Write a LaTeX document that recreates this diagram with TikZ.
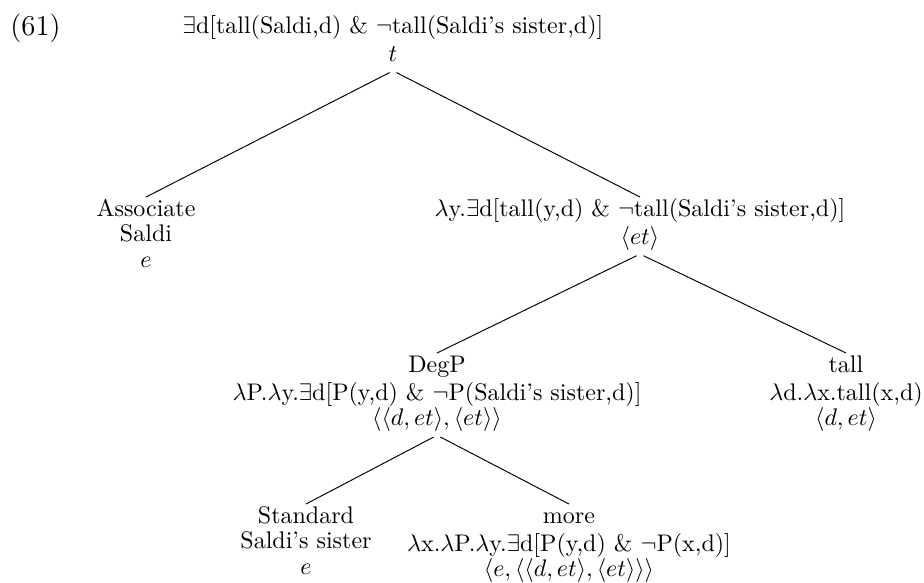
\documentclass[tikz,border=0pt]{standalone}
\usepackage{tikz}

\begin{document}
\begin{tikzpicture}[x=0.41667pt,y=-0.41667pt,
    lbl/.style={anchor=north,align=center,inner xsep=0pt,inner ysep=0.5pt,font=\fontsize{10}{10.6}\selectfont},
    branch/.style={shorten <=1.6pt}]
\useasboundingbox (0,0) rectangle (924,582);

\node[anchor=base west,inner sep=0pt,font=\large] (ex) at (10,35) {(61)};

\node[lbl] (root) at (393,14) {\strut$\exists$d[tall(Saldi,d) \& $\neg$tall(Saldi's sister,d)]\\[1pt]$t$\strut};
\node[lbl] (assoc) at (146,197) {\strut Associate\\Saldi\\$e$\strut};
\node[lbl] (lamy) at (640,197) {\strut$\lambda$y.$\exists$d[tall(y,d) \& $\neg$tall(Saldi's sister,d)]\\$\langle et\rangle$\strut};
\node[lbl] (degp) at (437,353) {\strut DegP\\$\lambda$P.$\lambda$y.$\exists$d[P(y,d) \& $\neg$P(Saldi's sister,d)]\\$\langle\langle d,et\rangle,\langle et\rangle\rangle$\strut};
\node[lbl] (tall) at (846,353) {\strut tall\\$\lambda$d.$\lambda$x.tall(x,d)\\$\langle d,et\rangle$\strut};
\node[lbl] (stand) at (306,504) {\strut Standard\\Saldi's sister\\$e$\strut};
\node[lbl] (more) at (569,504) {\strut more\\$\lambda$x.$\lambda$P.$\lambda$y.$\exists$d[P(y,d) \& $\neg$P(x,d)]\\$\langle e,\langle\langle d,et\rangle,\langle et\rangle\rangle\rangle$\strut};

\draw[branch] (root.south) -- (assoc.north);
\draw[branch] (root.south) -- (lamy.north);
\draw[branch] (lamy.south) -- (degp.north);
\draw[branch] (lamy.south) -- (tall.north);
\draw[branch] (degp.south) -- (stand.north);
\draw[branch] (degp.south) -- (more.north);
\end{tikzpicture}
\end{document}
